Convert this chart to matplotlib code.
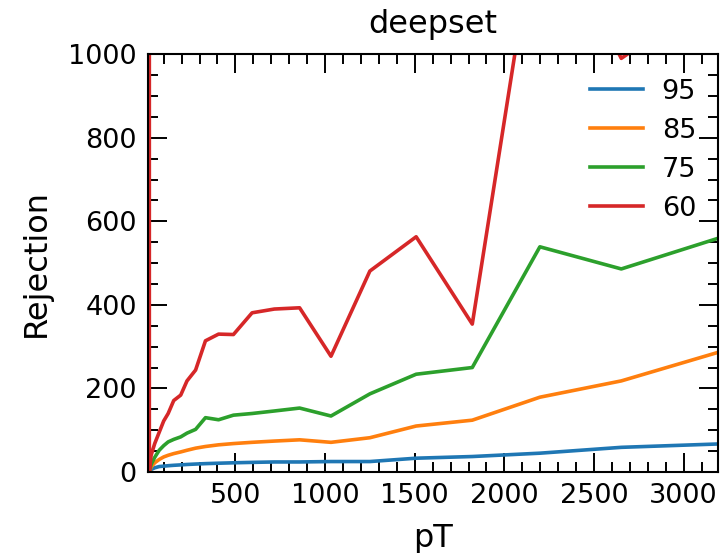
import matplotlib
matplotlib.use("Agg")
import matplotlib.pyplot as plt
from matplotlib.ticker import MultipleLocator

# pT bin positions and rejection per working point
pt = [20, 30, 50, 75, 100, 125, 156, 195, 230, 278, 333, 406, 489, 593, 717,
      858, 1033, 1250, 1508, 1821, 2198, 2652, 3189]
rej_95 = [0, 6, 10, 13, 14, 15, 16, 17, 18, 19, 20, 21, 22, 23, 24, 24, 25, 25,
          33, 37, 45, 59, 67]
rej_85 = [0, 12, 22, 30, 36, 40, 44, 48, 52, 57, 61, 65, 68, 71, 74, 77, 71, 82,
          110, 124, 179, 218, 286]
rej_75 = [0, 18, 35, 52, 63, 72, 78, 84, 93, 102, 130, 125, 136, 140, 146, 153,
          134, 187, 234, 250, 539, 486, 559]
rej_60 = [0, 40, 68, 95, 122, 140, 171, 184, 218, 244, 314, 330, 329, 381, 390,
          393, 277, 481, 563, 354, 1380, 990, 1150]
# first bin of the 60 curve blows up
pt_60 = [20] + pt
rej_60 = [3000] + rej_60

labels = ["95", "85", "75", "60"]

fig = plt.figure(figsize=(7.25, 5.53), dpi=100)
ax = fig.add_axes([0.204, 0.1465, 0.786, 0.7555])

ax.plot(pt, rej_95, color="#1f77b4", lw=2.6, label=labels[0])
ax.plot(pt, rej_85, color="#ff7f0e", lw=2.6, label=labels[1])
ax.plot(pt, rej_75, color="#2ca02c", lw=2.6, label=labels[2])
ax.plot(pt_60, rej_60, color="#d62728", lw=2.6, label=labels[3])

ax.set_xlim(12, 3190)
ax.set_ylim(0, 1000)
ax.xaxis.set_major_locator(MultipleLocator(500))
ax.xaxis.set_minor_locator(MultipleLocator(100))
ax.yaxis.set_major_locator(MultipleLocator(200))
ax.yaxis.set_minor_locator(MultipleLocator(50))
ax.tick_params(which="both", direction="in", top=True, right=True,
               labelsize=19.5, pad=8)
ax.tick_params(which="major", length=14, width=1.4)
ax.tick_params(which="minor", length=7, width=1.4)
for s in ax.spines.values():
    s.set_linewidth(1.5)

ax.set_xlabel("pT", fontsize=23, labelpad=10)
ax.set_ylabel("Rejection", fontsize=23, labelpad=12)
ax.set_title("deepset", fontsize=23, pad=15)

ax.legend(loc="upper right", frameon=False, fontsize=19.5, handlelength=1.95,
          handletextpad=0.7, labelspacing=0.48, bbox_to_anchor=(1.005, 1.0))

fig.savefig("out.png", dpi=100)
